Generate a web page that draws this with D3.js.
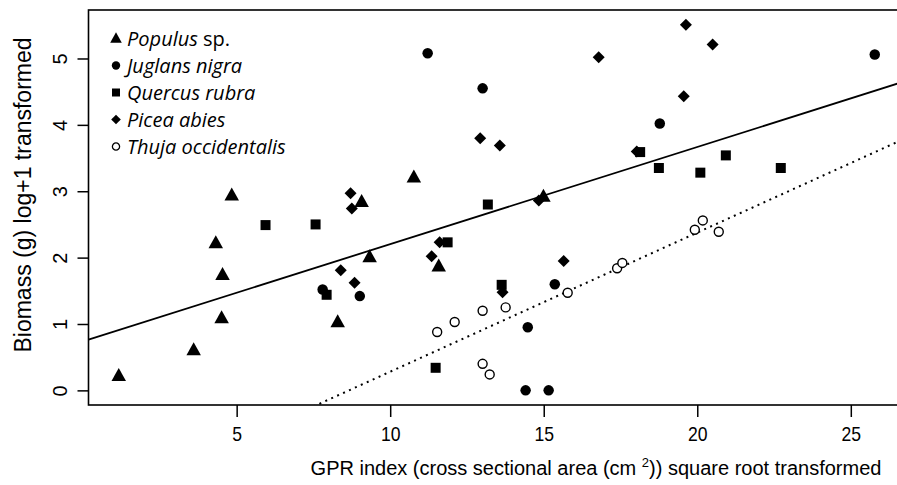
<!DOCTYPE html>
<html>
<head>
<meta charset="utf-8">
<script src="https://cdn.jsdelivr.net/npm/d3@7"></script>
<style>
    body { margin: 0; background: white; }
    svg { display: block; }
    .axis text { font-family: "Liberation Sans", Arial, sans-serif; fill: #000; }
    .legend text { font-family: "Open Sans", "Noto Sans", sans-serif; font-style: italic; fill: #000; }
</style>
</head>
<body>
<div class="mainview"></div>
<script>

// data ////////////////////////////

const species = ["Populus sp.", "Juglans nigra", "Quercus rubra", "Picea abies", "Thuja occidentalis"];

const populusX = [1.16, 3.60, 4.32, 4.54, 4.51, 4.84, 8.29, 9.07, 9.33, 10.77, 11.58, 14.99];
const populusY = [0.22, 0.61, 2.22, 1.74, 1.09, 2.94, 1.03, 2.84, 2.01, 3.21, 1.87, 2.92];

const juglansX = [11.22, 13.01, 7.80, 9.01, 15.36, 14.48, 14.41, 15.16, 18.78, 25.78];
const juglansY = [5.08, 4.55, 1.52, 1.42, 1.60, 0.95, 0.00, 0.00, 4.02, 5.06];

const piceaX = [8.71, 8.75, 8.39, 8.84, 11.35, 11.61, 12.93, 13.57, 14.84, 15.65, 13.66, 16.79, 19.63, 19.56, 20.50, 18.03];
const piceaY = [2.97, 2.74, 1.81, 1.62, 2.02, 2.23, 3.80, 3.69, 2.86, 1.95, 1.48, 5.02, 5.51, 4.43, 5.21, 3.60];

const quercusX = [5.94, 7.57, 7.93, 11.87, 13.18, 13.63, 11.48, 18.14, 18.75, 20.10, 20.93, 22.72];
const quercusY = [2.49, 2.50, 1.44, 2.23, 2.80, 1.59, 0.34, 3.59, 3.35, 3.28, 3.54, 3.35];

const thujaX = [11.53, 12.10, 13.01, 13.76, 13.01, 13.24, 15.78, 17.39, 17.56, 19.92, 20.18, 20.70];
const thujaY = [0.88, 1.03, 1.20, 1.25, 0.40, 0.24, 1.47, 1.84, 1.92, 2.42, 2.56, 2.39];

// fitted lines as drawn: [intercept, slope]
const fitAll = [0.739, 0.1464];
const fitThuja = [-1.815, 0.2096];

const xTicks = [5, 10, 15, 20, 25];
const yTicks = [0, 1, 2, 3, 4, 5];

const xTitle = ["GPR index (cross sectional area (cm ", "2", ")) square root transformed"];
const yTitle = "Biomass (g) log+1 transformed";

// layout ////////////////////////////////////////////

const dim = { width: 897, height: 485 };
const frame = { left: 88.5, right: 905, top: 10, bottom: 405 };

// R-style 4% axis expansion
const allX = [].concat(populusX, juglansX, piceaX, quercusX, thujaX);
const allY = [].concat(populusY, juglansY, piceaY, quercusY, thujaY);
const pad = (ext) => [ext[0] - (ext[1] - ext[0]) * .04, ext[1] + (ext[1] - ext[0]) * .04];

const x = d3.scaleLinear()
    .domain(pad(d3.extent(allX)))
    .range([frame.left, frame.right]);
const y = d3.scaleLinear()
    .domain(pad(d3.extent(allY)))
    .range([frame.bottom, frame.top]);

// symbol shapes, R pch 17 / 16 / 15 / 18 / 1
const tri = { draw(c, s) { c.moveTo(0, -s * .62); c.lineTo(s * .58, s * .42); c.lineTo(-s * .58, s * .42); c.closePath(); } };
const circ = { draw(c, s) { c.moveTo(s / 2, 0); c.arc(0, 0, s / 2, 0, 2 * Math.PI); } };
const sq = { draw(c, s) { c.rect(-s / 2, -s / 2, s, s); } };
const diam = { draw(c, s) { c.moveTo(0, -s / 2); c.lineTo(s / 2, 0); c.lineTo(0, s / 2); c.lineTo(-s / 2, 0); c.closePath(); } };

const styles = [
    { type: tri, size: 12.5, fill: "#000", stroke: "none" },
    { type: circ, size: 10.5, fill: "#000", stroke: "none" },
    { type: sq, size: 10, fill: "#000", stroke: "none" },
    { type: diam, size: 12, fill: "#000", stroke: "none" },
    { type: circ, size: 9, fill: "#fff", stroke: "#000" }
];

const groups = [
    d3.zip(populusX, populusY),
    d3.zip(juglansX, juglansY),
    d3.zip(quercusX, quercusY),
    d3.zip(piceaX, piceaY),
    d3.zip(thujaX, thujaY)
];

const svg = d3.select(".mainview").append("svg")
    .attr("width", dim.width)
    .attr("height", dim.height)
    .attr("viewBox", [0, 0, dim.width, dim.height]);

svg.append("defs").append("clipPath")
    .attr("id", "plotclip")
    .append("rect")
    .attr("x", frame.left).attr("y", frame.top)
    .attr("width", frame.right - frame.left)
    .attr("height", frame.bottom - frame.top);

// fitted lines
const lineGen = (fit) => {
    const [x0, x1] = x.domain();
    return d3.line()([[x(x0), y(fit[0] + fit[1] * x0)], [x(x1), y(fit[0] + fit[1] * x1)]]);
};

svg.append("path")
    .attr("clip-path", "url(#plotclip)")
    .attr("d", lineGen(fitAll))
    .attr("fill", "none")
    .attr("stroke", "#000")
    .attr("stroke-width", 1.8);

svg.append("path")
    .attr("clip-path", "url(#plotclip)")
    .attr("d", lineGen(fitThuja))
    .attr("fill", "none")
    .attr("stroke", "#000")
    .attr("stroke-width", 2)
    .attr("stroke-dasharray", "2,4.5");

// points
groups.forEach((pts, i) => {
    const st = styles[i];
    svg.append("g")
        .selectAll("path")
        .data(pts)
        .join("path")
        .attr("transform", d => `translate(${ x(d[0]) },${ y(d[1]) })`)
        .attr("d", d3.symbol(st.type, st.size))
        .attr("fill", st.fill)
        .attr("stroke", st.stroke)
        .attr("stroke-width", 1.4);
});

// frame
svg.append("rect")
    .attr("x", frame.left).attr("y", frame.top)
    .attr("width", frame.right - frame.left)
    .attr("height", frame.bottom - frame.top)
    .attr("fill", "none")
    .attr("stroke", "#000")
    .attr("stroke-width", 1.6);

// axes
const xAxis = d3.axisBottom(x)
    .tickValues(xTicks)
    .tickSize(12)
    .tickPadding(10);

svg.append("g")
    .attr("class", "axis x")
    .attr("transform", `translate(0, ${ frame.bottom })`)
    .call(xAxis)
    .call(g => g.select(".domain").remove())
    .call(g => g.selectAll("line").attr("stroke-width", 1.5))
    .call(g => g.selectAll("text")
        .attr("font-size", 20)
        .style("transform-box", "fill-box")
        .style("transform-origin", "center")
        .style("transform", "scaleX(0.88)"));

const yAxis = d3.axisLeft(y)
    .tickValues(yTicks)
    .tickSize(11)
    .tickFormat(d3.format("d"));

svg.append("g")
    .attr("class", "axis y")
    .attr("transform", `translate(${ frame.left }, 0)`)
    .call(yAxis)
    .call(g => g.select(".domain").remove())
    .call(g => g.selectAll("line").attr("stroke-width", 1.5))
    .call(g => g.selectAll("text")
        .attr("font-size", 20)
        .attr("x", null).attr("dy", null)
        .attr("text-anchor", "middle")
        .attr("transform", "translate(-22, 0) rotate(-90)"));

// axis titles
const xt = svg.append("text")
    .attr("x", 596)
    .attr("y", 475)
    .attr("text-anchor", "middle")
    .style("font-family", "Liberation Sans, Arial, sans-serif")
    .style("font-size", "20px");
xt.append("tspan").text(xTitle[0]);
xt.append("tspan").attr("dy", -8).style("font-size", "13px").text(xTitle[1]);
xt.append("tspan").attr("dy", 8).text(xTitle[2]);

svg.append("text")
    .attr("transform", `translate(31, 195) rotate(-90)`)
    .attr("text-anchor", "middle")
    .style("font-family", "Liberation Sans, Arial, sans-serif")
    .style("font-size", "23px")
    .text(yTitle);

// legend
const legend = svg.append("g").attr("class", "legend");
const legendRow = d3.scaleBand().domain(species).range([25, 160]);

species.forEach((name, i) => {
    const st = styles[i];
    const cy = legendRow(name) + legendRow.bandwidth() / 2;
    legend.append("path")
        .attr("transform", `translate(116,${ cy })`)
        .attr("d", d3.symbol(st.type, st.size * 0.8))
        .attr("fill", st.fill)
        .attr("stroke", st.stroke)
        .attr("stroke-width", 1.3);
    const t = legend.append("text")
        .attr("x", 127)
        .attr("y", cy)
        .attr("dy", "0.35em")
        .style("font-size", "20px");
    if (name === "Populus sp.") {
        t.append("tspan").text("Populus");
        t.append("tspan").style("font-style", "normal").text(" sp.");
    } else {
        t.text(name);
    }
});

</script>
</body>
</html>
